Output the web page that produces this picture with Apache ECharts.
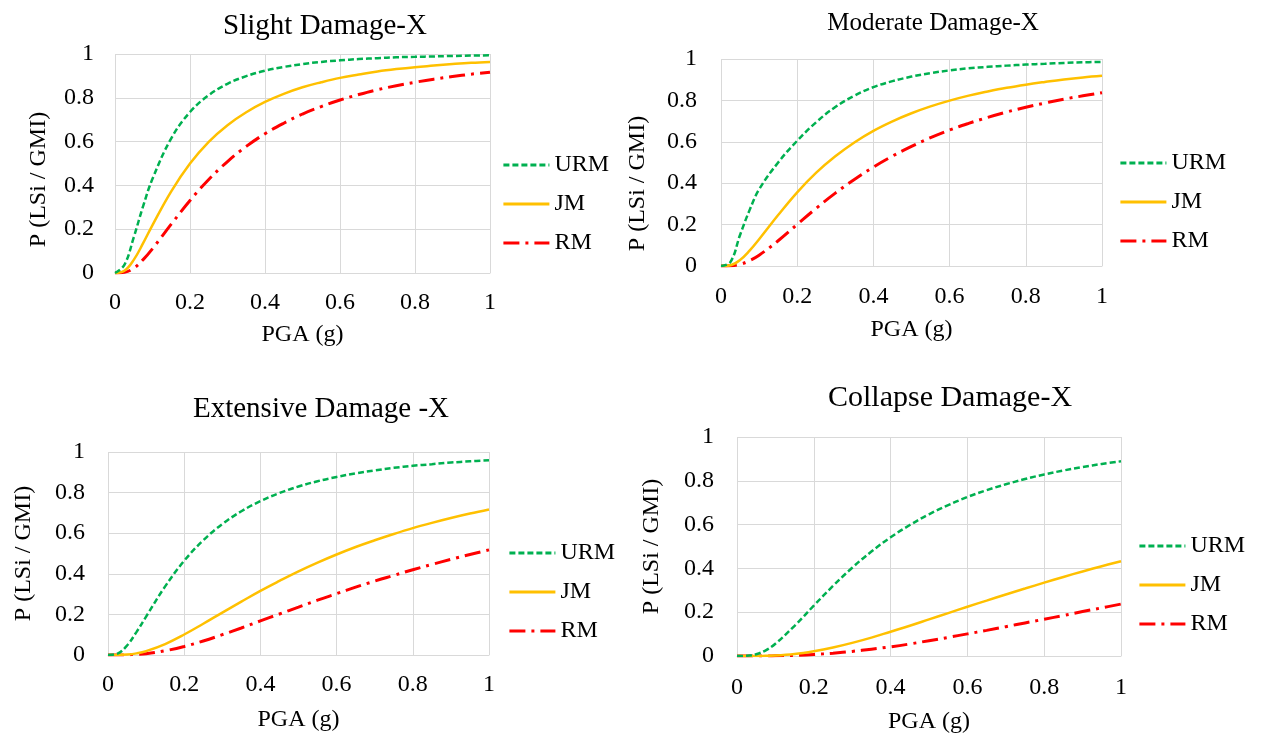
<!DOCTYPE html>
<html><head><meta charset="utf-8">
<script src="https://cdn.jsdelivr.net/npm/echarts@6/dist/echarts.min.js"></script>
<style>html,body{margin:0;padding:0;background:#fff}#c{width:1261px;height:740px}</style>
</head><body><div id="c"></div>
<script>
// ---- Data ----
const titles = ['Slight Damage-X', 'Moderate Damage-X', 'Extensive Damage -X', 'Collapse Damage-X'];
const seriesNames = ['URM', 'JM', 'RM'];
// PGA (g) sample points shared by every curve
const pga = [0,0.025,0.05,0.075,0.1,0.15,0.2,0.25,0.3,0.35,0.4,0.45,0.5,0.55,0.6,0.65,0.7,0.75,0.8,0.85,0.9,0.95,1];

const slightURM   = [0,0.037,0.163,0.305,0.43,0.615,0.735,0.812,0.864,0.899,0.924,0.941,0.954,0.964,0.971,0.977,0.981,0.985,0.987,0.989,0.991,0.993,0.994];
const slightJM    = [0,0.01,0.06,0.136,0.219,0.373,0.5,0.599,0.675,0.734,0.781,0.818,0.848,0.871,0.891,0.906,0.92,0.931,0.94,0.947,0.954,0.96,0.964];
const slightRM    = [0,0.003,0.022,0.061,0.111,0.223,0.331,0.427,0.509,0.578,0.636,0.684,0.726,0.76,0.79,0.815,0.837,0.855,0.871,0.885,0.897,0.908,0.917];

const moderateURM = [0,0.02,0.15,0.27,0.37,0.5,0.605,0.695,0.768,0.823,0.864,0.893,0.915,0.932,0.945,0.955,0.962,0.968,0.973,0.977,0.981,0.984,0.986];
const moderateJM  = [0,0.004,0.029,0.074,0.129,0.246,0.356,0.451,0.53,0.597,0.653,0.699,0.738,0.771,0.799,0.823,0.843,0.861,0.876,0.889,0.901,0.911,0.919];
const moderateRM  = [0,0.001,0.008,0.026,0.052,0.122,0.201,0.279,0.352,0.418,0.478,0.531,0.578,0.62,0.657,0.689,0.718,0.744,0.767,0.787,0.806,0.822,0.837];

const extensiveURM = [0,0.007,0.047,0.114,0.189,0.338,0.464,0.565,0.645,0.708,0.758,0.798,0.83,0.856,0.877,0.895,0.909,0.922,0.932,0.94,0.948,0.954,0.959];
const extensiveJM  = [0,0,0.002,0.008,0.019,0.054,0.101,0.154,0.209,0.263,0.316,0.365,0.412,0.455,0.495,0.532,0.565,0.596,0.625,0.651,0.675,0.697,0.717];
const extensiveRM  = [0,0,0.001,0.003,0.006,0.021,0.042,0.069,0.1,0.133,0.168,0.202,0.236,0.27,0.302,0.334,0.364,0.392,0.42,0.446,0.471,0.495,0.518];

const collapseURM = [0,0.001,0.008,0.026,0.056,0.138,0.23,0.32,0.403,0.477,0.542,0.598,0.647,0.689,0.726,0.757,0.784,0.808,0.829,0.847,0.863,0.877,0.889];
const collapseJM  = [0,0,0,0.001,0.002,0.009,0.022,0.039,0.06,0.084,0.111,0.138,0.167,0.196,0.225,0.253,0.281,0.308,0.335,0.361,0.386,0.41,0.433];
const collapseRM  = [0,0,0,0,0.001,0.003,0.007,0.013,0.021,0.031,0.042,0.055,0.07,0.085,0.101,0.117,0.134,0.151,0.168,0.185,0.203,0.22,0.237];

// ---- Layout / style ----
const FONT = '"Liberation Serif", "Times New Roman", serif';
const panels = [
  {grid:{left:115,top:54,width:375,height:219}, title:{x:320,top:7,size:29}, legend:{left:502,top:152}, xGap:50, yGap:64, yShift:32, xMargin:18, yMargin:21,
   data:[slightURM, slightJM, slightRM]},
  {grid:{left:721,top:59,width:381,height:207}, title:{x:928,top:6,size:25}, legend:{left:1119,top:150}, xGap:52, yGap:71, yShift:42, xMargin:19, yMargin:24,
   data:[moderateURM, moderateJM, moderateRM]},
  {grid:{left:108,top:452,width:381,height:203}, title:{x:316,top:390,size:29}, legend:{left:508,top:540}, xGap:53, yGap:72, yShift:0, xMargin:18, yMargin:23,
   data:[extensiveURM, extensiveJM, extensiveRM]},
  {grid:{left:737,top:437,width:384,height:219}, title:{x:945,top:378,size:30}, legend:{left:1138,top:533}, xGap:54, yGap:73, yShift:0, xMargin:20, yMargin:23,
   data:[collapseURM, collapseJM, collapseRM]}
];
const lineStyles = [
  {color:'#00b050', width:2.5, type:[6,3]},
  {color:'#ffc000', width:2.5, type:'solid'},
  {color:'#ff0000', width:3, type:[16,6,3,6]}
];

const option = {
  animation:false,
  backgroundColor:'#fff',
  title:[], grid:[], xAxis:[], yAxis:[], legend:[], series:[]
};
panels.forEach((p, i) => {
  option.title.push({text:titles[i], left:p.title.x, top:p.title.top, textAlign:'center',
    textStyle:{fontFamily:FONT, fontWeight:'normal', fontSize:p.title.size, color:'#000'}});
  option.grid.push(Object.assign({containLabel:false}, p.grid));
  option.xAxis.push({type:'value', gridIndex:i, min:0, max:1, interval:0.2,
    name:'PGA (g)', nameLocation:'middle', nameGap:p.xGap,
    nameTextStyle:{fontFamily:FONT, fontSize:24, color:'#000'},
    axisLine:{show:true, lineStyle:{color:'#d9d9d9', width:1}}, axisTick:{show:false},
    axisLabel:{fontFamily:FONT, fontSize:24, color:'#000', margin:p.xMargin,
      formatter:v => String(+v.toFixed(1))},
    splitLine:{show:true, lineStyle:{color:'#d9d9d9', width:1}}});
  option.yAxis.push({type:'value', gridIndex:i, min:0, max:1, interval:0.2,
    name:'P (LSi / GMI)', nameLocation:'middle', nameGap:p.yGap, nameRotate:90,
    nameTextStyle:{fontFamily:FONT, fontSize:24, color:'#000', padding:[0,p.yShift,0,0]},
    axisLine:{show:false}, axisTick:{show:false},
    axisLabel:{fontFamily:FONT, fontSize:24, color:'#000', margin:p.yMargin,
      formatter:v => String(+v.toFixed(1))},
    splitLine:{show:true, lineStyle:{color:'#d9d9d9', width:1}}});
  option.legend.push({orient:'vertical', left:p.legend.left, top:p.legend.top,
    padding:0,
    data:seriesNames, itemWidth:46, itemHeight:14, itemGap:13,
    selectedMode:false,
    itemStyle:{opacity:0},
    lineStyle:{width:2.8},
    textStyle:{fontFamily:FONT, fontSize:24, color:'#000', lineHeight:26}});
  p.data.forEach((vals, k) => {
    option.series.push({type:'line', name:seriesNames[k], xAxisIndex:i, yAxisIndex:i,
      data:pga.map((x, j) => [x, vals[j]]), smooth:0.4,
      symbol:'none', showSymbol:false, lineStyle:lineStyles[k], itemStyle:{color:lineStyles[k].color},
      z:3-k});
  });
});
const chart = echarts.init(document.getElementById('c'), null, {renderer:'canvas'});
chart.setOption(option);
</script></body></html>
